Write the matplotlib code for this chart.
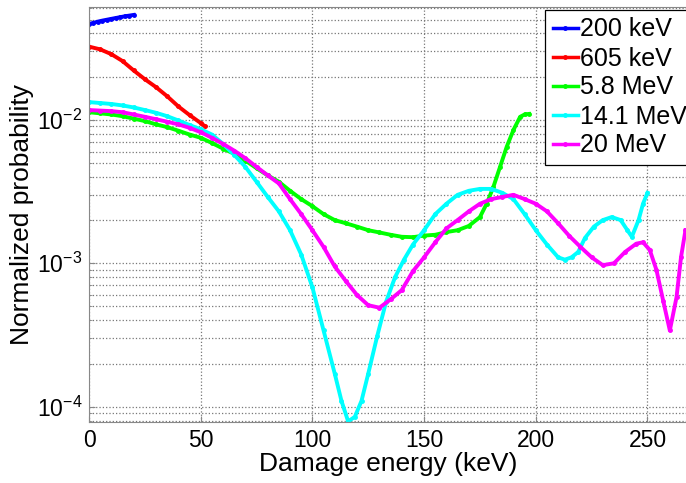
import matplotlib
matplotlib.use('Agg')
import matplotlib.pyplot as plt
from matplotlib.ticker import LogLocator, NullFormatter

plt.rcParams['font.family'] = 'Liberation Sans'
plt.rcParams['mathtext.fontset'] = 'custom'
plt.rcParams['mathtext.rm'] = 'Liberation Sans'
plt.rcParams['mathtext.it'] = 'Liberation Sans'

# 200 keV
x_200k = [0, 2, 4, 6, 8, 10, 12, 14, 16, 18, 20]
y_200k = [0.0465, 0.0475, 0.0484, 0.0492, 0.0499, 0.0506, 0.0513, 0.0520, 0.0527, 0.0533, 0.0539]

# 605 keV
x_605k = [0, 5, 10, 15, 20, 25, 30, 35, 40, 45, 50, 52]
y_605k = [0.0324, 0.0310, 0.0287, 0.0257, 0.0221, 0.0192, 0.0169, 0.0146, 0.0124, 0.0108, 0.0095, 0.0090]

# 5.8 MeV
x_58M = [0, 5, 10, 15, 20, 25, 30, 35, 40, 45, 50, 55, 60, 65, 70, 75, 80, 85, 90, 95,
         100, 105, 110, 115, 120, 125, 130, 135, 140, 145, 150, 155, 160, 165, 170, 175,
         178, 181, 184, 187, 190, 193, 195, 197]
y_58M = [0.0113, 0.0111, 0.0109, 0.0106, 0.0102, 0.0098, 0.0093, 0.0089, 0.0084, 0.0079,
         0.0075, 0.0069, 0.0063, 0.0058, 0.0052, 0.0046, 0.0041, 0.0037, 0.0032, 0.0028,
         0.0025, 0.0022, 0.0020, 0.0019, 0.0018, 0.0017, 0.00164, 0.00158, 0.00153, 0.00152,
         0.00156, 0.00158, 0.00165, 0.00170, 0.00182, 0.0021,
         0.0026, 0.0034, 0.0047, 0.0065, 0.0085, 0.0105, 0.0109, 0.0110]

# 14.1 MeV
x_141M = [0, 5, 10, 15, 20, 25, 30, 35, 40, 45, 50, 55, 60, 65, 70, 75, 80, 85, 90, 95,
          100, 105, 110, 113, 116, 119, 122, 125, 129, 133, 137, 141, 145, 150, 155, 160,
          165, 170, 175, 180, 185, 190, 195, 200, 205, 210, 213, 216, 219, 222, 226, 230,
          234, 238, 241, 243, 246, 248, 250]
y_141M = [0.0133, 0.0131, 0.0129, 0.0126, 0.0122, 0.0117, 0.0112, 0.0106, 0.0099, 0.0092,
          0.0086, 0.0079, 0.0068, 0.0057, 0.0047, 0.0037, 0.0029, 0.0023, 0.0017, 0.00115,
          0.00068, 0.00034, 0.00017, 0.00011, 0.000079, 0.000085, 0.00011, 0.00017, 0.00031,
          0.00054, 0.00080, 0.00106, 0.00135, 0.0017, 0.0022, 0.0026,
          0.0030, 0.0032, 0.0033, 0.0033, 0.0031, 0.0028, 0.0022, 0.0017, 0.00135, 0.0011,
          0.00106, 0.0011, 0.0012, 0.0015, 0.0018, 0.0020,
          0.0021, 0.0020, 0.0017, 0.00153, 0.0020, 0.0026, 0.0031]

# 20 MeV
x_20M = [0, 5, 10, 15, 20, 25, 30, 35, 40, 45, 50, 55, 60, 65, 70, 75, 80, 85, 90, 95,
         100, 105, 110, 115, 120, 125, 130, 135, 140, 145, 150, 155, 160, 165, 170, 175,
         180, 185, 190, 195, 200, 205, 210, 215, 220, 225, 230, 235, 240, 245, 248, 251,
         254, 257, 260, 263, 265, 267]
y_20M = [0.0117, 0.0116, 0.0115, 0.0113, 0.0109, 0.0105, 0.0101, 0.0097, 0.0093, 0.0088,
         0.0082, 0.0075, 0.0068, 0.0061, 0.0054, 0.0047, 0.0041, 0.0036, 0.0028, 0.0022,
         0.0017, 0.0013, 0.00095, 0.00075, 0.00060, 0.00051, 0.00049, 0.00056, 0.00065,
         0.00088, 0.0011, 0.0014, 0.00175, 0.0020, 0.0023, 0.0026,
         0.0028, 0.0029, 0.0030, 0.0028, 0.0026, 0.0023, 0.0019, 0.00155, 0.0013, 0.0011,
         0.00097, 0.0010, 0.0012, 0.00137, 0.0014, 0.00124,
         0.0009, 0.00055, 0.00034, 0.00058, 0.0011, 0.0017]

series = [
    ('200 keV', x_200k, y_200k, '#0000ff'),
    ('605 keV', x_605k, y_605k, '#ff0000'),
    ('5.8 MeV', x_58M, y_58M, '#00ff00'),
    ('14.1 MeV', x_141M, y_141M, '#00ffff'),
    ('20 MeV', x_20M, y_20M, '#ff00ff'),
]

fig = plt.figure(figsize=(6.86, 4.83), dpi=100)
ax = fig.add_axes([89 / 686, 61.3 / 483, 598.7 / 686, 414.7 / 483])

for label, xs, ys, c in series:
    ax.plot(xs, ys, color=c, lw=2.8, marker='.', ms=5, label=label)

ax.set_yscale('log')
ax.set_xlim(0, 268)
ax.set_ylim(7.86e-5, 0.0612)
ax.set_xticks([0, 50, 100, 150, 200, 250])
ax.yaxis.set_major_locator(LogLocator(base=10))
ax.yaxis.set_minor_locator(LogLocator(base=10, subs=range(2, 10)))
ax.yaxis.set_minor_formatter(NullFormatter())

ax.grid(True, which='major', axis='both', ls=':', color='#777777', lw=0.9)
ax.grid(True, which='minor', axis='y', ls=':', color='#777777', lw=0.9)
ax.set_axisbelow(True)

for s in ax.spines.values():
    s.set_color('#888888')
ax.tick_params(which='both', direction='in', colors='#888888', labelcolor='black',
               labelsize=16.5)
ax.tick_params(which='major', length=4, pad=5)
ax.tick_params(which='minor', length=2)

ax.set_xlabel('Damage energy (keV)', fontsize=19, labelpad=0)
ax.set_ylabel('Normalized probability', fontsize=19, labelpad=2)

leg = ax.legend(loc='upper left', bbox_to_anchor=(545 / 686, 1 - 10 / 483),
                bbox_transform=fig.transFigure, fontsize=18, frameon=True,
                fancybox=False, edgecolor='black', framealpha=1,
                handlelength=1.0, handletextpad=0.1, labelspacing=0.2,
                borderpad=0.3, borderaxespad=0)
leg.get_frame().set_linewidth(0.9)
for h in leg.legend_handles:
    h.set_linewidth(2.5)

fig.savefig('out.png', dpi=100)
